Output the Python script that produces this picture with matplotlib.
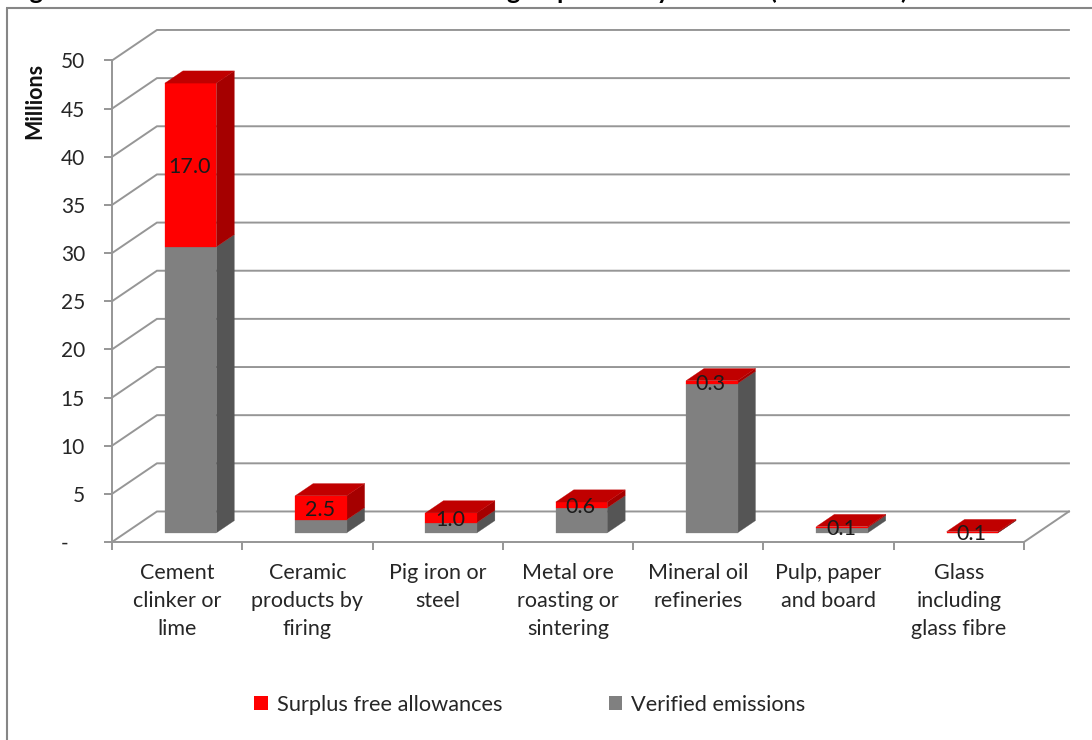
#!/usr/bin/env python3
import matplotlib
matplotlib.use("Agg")
import matplotlib.pyplot as plt
from matplotlib.lines import Line2D
from matplotlib.patches import Patch, Polygon

OUTPUT_PNG = "out.png"

categories = [
    "Cement\nclinker or\nlime",
    "Ceramic\nproducts by\nfiring",
    "Pig iron or\nsteel",
    "Metal ore\nroasting or\nsintering",
    "Mineral oil\nrefineries",
    "Pulp, paper\nand board",
    "Glass\nincluding\nglass fibre",
]
verified = [29.7, 1.35, 1.07, 2.6, 15.5, 0.55, 0.03]
surplus = [17.0, 2.5, 1.0, 0.6, 0.3, 0.1, 0.1]
y_ticks = [0, 5, 10, 15, 20, 25, 30, 35, 40, 45, 50]
y_tick_labels = ["-   ", "5", "10", "15", "20", "25", "30", "35", "40", "45", "50"]

# oblique depth of the floor, in category widths and in millions
DEPTH_X = 0.345
DEPTH_Y = 3.17
BAR_WIDTH = 0.395
BAR_NEAR = 0.3
BAR_FAR = 0.7

GRID = "#969696"
TEXT = "#262626"
W, H = 1092, 740


def project(x, v, d):
    return (x + d * DEPTH_X, v + d * DEPTH_Y)


def face(ax, corners, color):
    ax.add_patch(Polygon([project(*c) for c in corners], closed=True, facecolor=color,
                         edgecolor=color, linewidth=0.2, clip_on=False, zorder=3))


def draw_segment(ax, left, right, low, high, front, side):
    face(ax, [(right, low, BAR_NEAR), (right, low, BAR_FAR),
              (right, high, BAR_FAR), (right, high, BAR_NEAR)], side)
    face(ax, [(left, low, BAR_NEAR), (right, low, BAR_NEAR),
              (right, high, BAR_NEAR), (left, high, BAR_NEAR)], front)


def main():
    plt.rcParams["font.family"] = ["Lato", "DejaVu Sans"]
    fig = plt.figure(figsize=(W / 100, H / 100), dpi=100)
    ax = fig.add_axes([112 / W, (H - 542) / H, 912 / W, 481.5 / H])
    n = len(categories)
    ax.set_xlim(0, n)
    ax.set_ylim(0, 50)
    ax.patch.set_visible(False)

    # left wall diagonals and back wall lines
    for v in y_ticks:
        xs, ys = zip(project(0, v, 0), project(0, v, 1), project(n, v, 1))
        ax.plot(xs, ys, color=GRID, lw=1.4, clip_on=False, zorder=1, solid_joinstyle="miter")
    xs, ys = zip(project(n, 0, 0), project(n, 0, 1))
    ax.plot(xs, ys, color=GRID, lw=1.4, clip_on=False, zorder=1)

    # stacked bars
    for i in range(n):
        left = i + 0.5 - BAR_WIDTH / 2
        right = left + BAR_WIDTH
        top = verified[i] + surplus[i]
        draw_segment(ax, left, right, 0, verified[i], "#808080", "#555555")
        draw_segment(ax, left, right, verified[i], top, "#FF0000", "#A50000")
        face(ax, [(left, top, BAR_NEAR), (right, top, BAR_NEAR),
                  (right, top, BAR_FAR), (left, top, BAR_FAR)], "#C00000")
        lx, ly = project(i + 0.5, verified[i] + surplus[i] / 2, BAR_NEAR)
        ax.annotate(f"{surplus[i]:.1f}", xy=(lx, ly), xytext=(-1, -2), textcoords="offset pixels",
                    ha="center", va="center", fontsize=15.5, color="#1a1a1a", zorder=5,
                    annotation_clip=False)

    for s in ["top", "right"]:
        ax.spines[s].set_visible(False)
    for s in ["left", "bottom"]:
        ax.spines[s].set_color(GRID)
        ax.spines[s].set_linewidth(1.4)

    ax.set_yticks(y_ticks)
    ax.set_yticklabels(y_tick_labels, fontsize=15, color=TEXT)
    ax.tick_params(axis="y", length=5.5, width=1.4, color=GRID, pad=14)
    ax.set_xticks(range(n + 1))
    ax.set_xticklabels([])
    ax.tick_params(axis="x", length=5.5, width=1.4, color=GRID)

    for i, label in enumerate(categories):
        ax.annotate(label, xy=(i + 0.5, 0), xytext=(0, -21), textcoords="offset pixels",
                    ha="center", va="top", fontsize=15.5, color=TEXT, linespacing=1.5,
                    annotation_clip=False)

    ax.set_ylabel("Millions", fontsize=15.5, fontweight="bold", color="#111111", va="center")
    ax.yaxis.set_label_coords((35 - 112) / 912, (542 - 101) / 481.5)

    handles = [Patch(facecolor="#FF0000", label="Surplus free allowances"),
               Patch(facecolor="#808080", label="Verified emissions")]
    fig.legend(handles=handles, ncol=2, frameon=False, fontsize=15.7, labelcolor=TEXT,
               loc="center", bbox_to_anchor=(530 / W, (H - 705) / H), handlelength=0.6,
               handleheight=0.6, handletextpad=0.42, columnspacing=4.9)

    # chart frame, cut by the right and bottom edges
    frame = {"color": "#868686", "lw": 1.5, "solid_capstyle": "butt"}
    fig.add_artist(Line2D([6.5 / W, 6.5 / W], [0, (H - 8) / H], **frame))
    fig.add_artist(Line2D([6 / W, 1], [(H - 8) / H, (H - 8) / H], **frame))

    # heading sits above the frame and runs off the top edge
    for word, x in [("Figure", 9), ("group", 506), ("activity", 587), ("(2008-2012)", 769)]:
        fig.text(x / W, (H + 1) / H, word, fontsize=18, fontweight="bold", color="black",
                 ha="left", va="baseline")

    fig.savefig(OUTPUT_PNG, dpi=100)
    print(f"Plot saved to {OUTPUT_PNG}")


if __name__ == "__main__":
    main()
